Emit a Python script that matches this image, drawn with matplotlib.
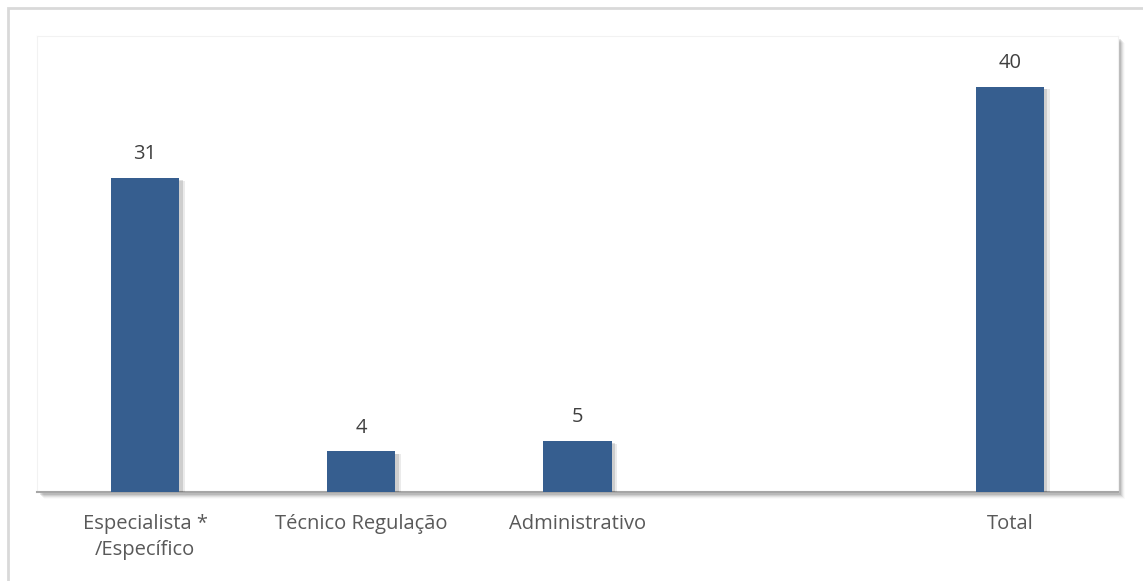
import matplotlib
matplotlib.use("Agg")
import matplotlib.pyplot as plt
import matplotlib.patheffects as pe
from matplotlib.patches import Rectangle

categories = ["Especialista *\n/Específico", "Técnico Regulação", "Administrativo", "", "Total"]
values = [31, 4, 5, None, 40]

W, H = 1143, 581
fig = plt.figure(figsize=(W / 100, H / 100), dpi=100)
fig.patch.set_facecolor("white")
plt.rcParams['font.family'] = ['Open Sans', 'DejaVu Sans']

# outer chart border
fig.patches.append(Rectangle((8 / W, -0.05), 1.1, (H - 8) / H + 0.05, transform=fig.transFigure,
                             facecolor="none", edgecolor="#d9d9d9", linewidth=2, zorder=0))

left, right, top, bottom = 37, 1118, 36, 492
ax_pos = [left / W, (H - bottom) / H, (right - left) / W, (bottom - top) / H]

# plot area shadow
for i, a in enumerate([0.10, 0.08, 0.06, 0.04, 0.02]):
    off = i + 1
    fig.patches.append(Rectangle(((left + off + 2) / W, (H - bottom - off - 2) / H),
                                 (right - left) / W, (bottom - top) / H,
                                 transform=fig.transFigure, facecolor="black", alpha=a,
                                 edgecolor="none", zorder=0.5))

ax = fig.add_axes(ax_pos)
ax.set_facecolor("white")
ax.set_zorder(1)

xs = list(range(len(categories)))
bar_x = [x for x, v in zip(xs, values) if v is not None]
bar_v = [v for v in values if v is not None]
shadow = [pe.SimplePatchShadow(offset=(4, -2), shadow_rgbFace="black", alpha=0.08),
          pe.SimplePatchShadow(offset=(2.5, -1.5), shadow_rgbFace="black", alpha=0.12),
          pe.Normal()]
bars = ax.bar(bar_x, bar_v, width=0.315, color="#365e8f", zorder=3, path_effects=shadow)
for x, v in zip(bar_x, bar_v):
    ax.annotate(str(v), (x, v), xytext=(0, 10), textcoords="offset points",
                ha="center", va="bottom", fontsize=14.5, color="#404040")

ax.set_xlim(-0.5, 4.5)
ax.set_ylim(0, 45)
ax.set_xticks(xs)
ax.set_xticklabels(categories, fontsize=14.5, color="#595959", linespacing=1.4)
ax.tick_params(axis="x", length=0, pad=16)
ax.set_yticks([])
for s in ["top", "left", "right"]:
    ax.spines[s].set_color("#f2f2f2")
    ax.spines[s].set_linewidth(0.8)
ax.spines["bottom"].set_color("#a6a6a6")
ax.spines["bottom"].set_linewidth(1.5)

fig.savefig("out.png", dpi=100)
